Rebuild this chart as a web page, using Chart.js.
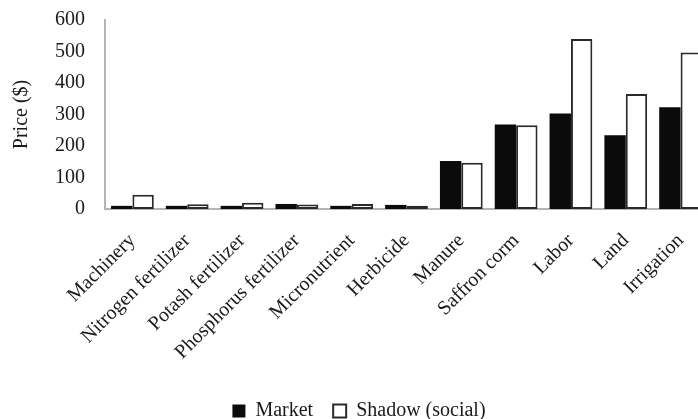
<!DOCTYPE html>
<html>
<head>
<meta charset="utf-8">
<script src="https://cdn.jsdelivr.net/npm/chart.js@4/dist/chart.umd.min.js"></script>
<style>
  html, body { margin: 0; padding: 0; background: #ffffff; overflow: hidden; }
  #wrap { width: 720px; height: 419px; }
</style>
</head>
<body>
<div id="wrap"><canvas id="chart" width="720" height="419"></canvas></div>
<script>
// Cost items and their market vs. shadow (social) prices, in dollars
const categories = [
  "Machinery", "Nitrogen fertilizer", "Potash fertilizer", "Phosphorus fertilizer",
  "Micronutrient", "Herbicide", "Manure", "Saffron corm", "Labor", "Land", "Irrigation"
];
const marketPrices = [10, 10, 10, 16, 10, 13, 152, 268, 303, 234, 323];
const shadowPrices = [45, 15, 20, 14, 16, 10, 147, 266, 540, 365, 497];
const yTicks = [0, 100, 200, 300, 400, 500, 600];

const serif = "'Liberation Serif', 'Times New Roman', serif";
const textColor = "#1a1a1a";
const axisColor = "#b4b4b4";

new Chart(document.getElementById("chart"), {
  type: "bar",
  data: {
    labels: categories,
    datasets: [
      {
        label: "Market",
        data: marketPrices,
        backgroundColor: "#0b0b0b",
        borderColor: "#0b0b0b",
        borderWidth: 0,
        categoryPercentage: 0.78,
        barPercentage: 1.0
      },
      {
        label: "Shadow (social)",
        data: shadowPrices,
        backgroundColor: "#ffffff",
        borderColor: "#2a2a2a",
        borderWidth: 2,
        borderSkipped: false,
        categoryPercentage: 0.78,
        barPercentage: 1.0
      }
    ]
  },
  options: {
    responsive: false,
    animation: false,
    layout: { padding: { left: 10, right: 12, top: 0, bottom: -12 } },
    plugins: {
      tooltip: { enabled: false },
      legend: {
        position: "bottom",
        labels: {
          boxWidth: 13,
          boxHeight: 13,
          padding: 20,
          color: textColor,
          font: { family: serif, size: 20 }
        }
      }
    },
    scales: {
      x: {
        grid: { display: false, drawTicks: false },
        border: { display: true, color: axisColor, width: 2 },
        ticks: {
          autoSkip: false,
          minRotation: 45,
          maxRotation: 45,
          padding: 20,
          color: textColor,
          font: { family: serif, size: 20 }
        },
        afterFit: (scale) => { scale.height = 172; }
      },
      y: {
        min: 0,
        max: 600,
        afterBuildTicks: (scale) => { scale.ticks = yTicks.map(v => ({ value: v })); },
        grid: { display: false, drawTicks: false },
        border: { display: true, color: axisColor, width: 2 },
        ticks: {
          padding: 20,
          color: textColor,
          font: { family: serif, size: 20 }
        },
        title: {
          display: true,
          text: "Price ($)",
          color: textColor,
          padding: { top: 0, bottom: 0 },
          font: { family: serif, size: 20 }
        },
        afterFit: (scale) => {
          scale.width = 95;
          scale.paddingTop = 20;
        }
      }
    }
  }
});
</script>
</body>
</html>
